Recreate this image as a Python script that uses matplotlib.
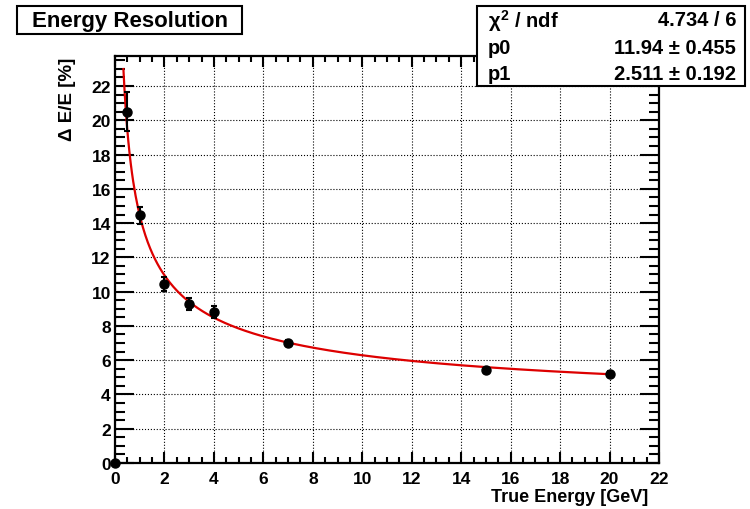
import numpy as np
import matplotlib.pyplot as plt
from matplotlib.patches import Rectangle
from matplotlib.ticker import MultipleLocator

plt.rcParams['font.family'] = ['Liberation Sans', 'DejaVu Sans']
plt.rcParams['font.weight'] = 'bold'
plt.rcParams['mathtext.fontset'] = 'custom'
plt.rcParams['mathtext.rm'] = 'Liberation Sans:bold'
plt.rcParams['mathtext.it'] = 'Liberation Sans:bold'

# measured points
energy = [0, 0.5, 1, 2, 3, 4, 7, 15, 20]
resolution = [0, 20.5, 14.45, 10.45, 9.3, 8.8, 7.0, 5.4, 5.2]
res_err = [0, 1.15, 0.5, 0.4, 0.35, 0.35, 0.2, 0.15, 0.15]

# fit result: p0/sqrt(E) + p1
p0, p0_err = 11.94, 0.455
p1, p1_err = 2.511, 0.192
chi2, ndf = 4.734, 6
fit_range = (0.34, 20)

fig = plt.figure(figsize=(7.5, 5.1), dpi=100)
ax = fig.add_axes([115/750, 1 - 464/510, (659-115)/750, (464-57)/510])

xf = np.linspace(fit_range[0], fit_range[1], 400)
ax.plot(xf, p0/np.sqrt(xf) + p1, color='#dd0000', lw=1.6, zorder=3)
ax.errorbar(energy, resolution, yerr=res_err, fmt='o', color='black',
            ms=6.5, elinewidth=1.5, capsize=2.5, capthick=1.5,
            zorder=4, clip_on=False)

ax.set_xlim(0, 22)
ax.set_ylim(0, 23.75)
ax.xaxis.set_major_locator(MultipleLocator(2))
ax.xaxis.set_minor_locator(MultipleLocator(0.5))
ax.yaxis.set_major_locator(MultipleLocator(2))
ax.yaxis.set_minor_locator(MultipleLocator(0.5))
ax.tick_params(which='both', direction='in', top=True, right=True, width=1.5,
               labelsize=12.5)
ax.tick_params(axis='x', which='major', length=8, pad=6)
ax.tick_params(axis='x', which='minor', length=4)
ax.tick_params(axis='y', which='major', length=14, pad=3)
ax.tick_params(axis='y', which='minor', length=7)
for lab in ax.get_xticklabels() + ax.get_yticklabels():
    lab.set_fontweight('bold')
for s in ax.spines.values():
    s.set_linewidth(1.6)
ax.grid(True, which='major', ls=':', color='black', lw=0.8)

fig.text(648/750, 1 - 498/510, 'True Energy [GeV]', ha='right', va='center',
         fontsize=13, fontweight='bold')
fig.text(67/750, 1 - 58/510, 'Δ E/E [%]', ha='center', va='top',
         rotation=90, fontsize=13.5, fontweight='bold')

# title box
fig.add_artist(Rectangle((17/750, 1 - 35/510), 225/750, 28/510,
                         transform=fig.transFigure, facecolor='white',
                         edgecolor='black', lw=1.5, zorder=5))
fig.text(130/750, 1 - 21/510, 'Energy Resolution', ha='center', va='center',
         fontsize=16, fontweight='bold', zorder=6)

# stats box
fig.add_artist(Rectangle((477/750, 1 - 87/510), 268/750, 80/510,
                         transform=fig.transFigure, facecolor='white',
                         edgecolor='black', lw=1.5, zorder=5))
rows = [(r'$\chi^{2}$ / ndf', f'{chi2} / {ndf}'),
        ('p0', f'{p0} ± {p0_err}'),
        ('p1', f'{p1} ± {p1_err}')]
for (left, right), yy in zip(rows, [21, 48, 75]):
    fig.text(488/750, 1 - yy/510, left, ha='left', va='center',
             fontsize=14.5, fontweight='bold', zorder=6)
    fig.text(736/750, 1 - yy/510, right, ha='right', va='center',
             fontsize=14.5, fontweight='bold', zorder=6)

plt.savefig('out.png', dpi=100)
